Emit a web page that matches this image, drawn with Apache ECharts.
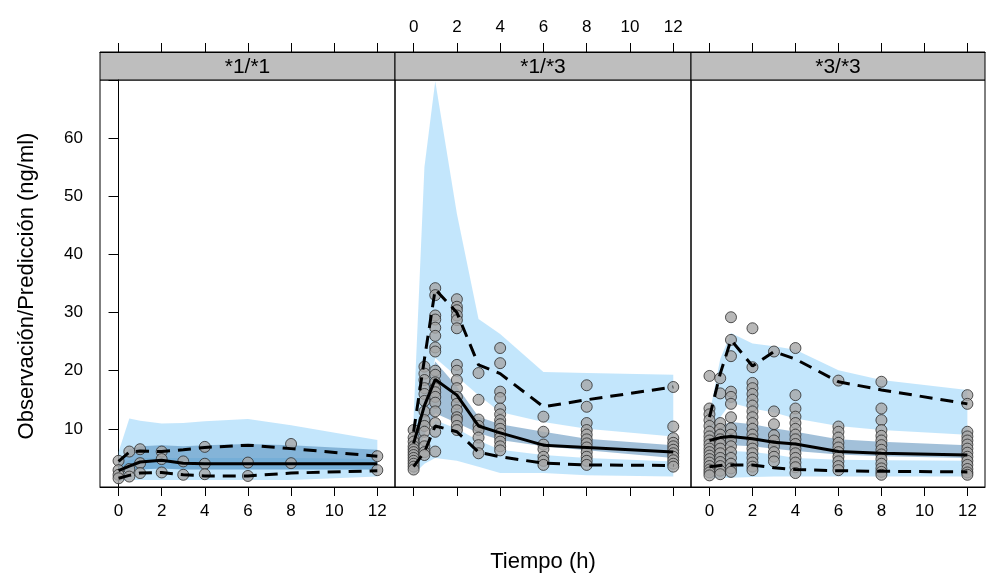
<!DOCTYPE html>
<html><head><meta charset="utf-8">
<script src="https://cdn.jsdelivr.net/npm/echarts@6/dist/echarts.min.js"></script>
<style>html,body{margin:0;padding:0;background:#fff}#c{width:986px;height:574px}</style>
</head><body><div id="c"></div>
<script>
// ---------- data ----------
const panelNames = ['*1/*1', '*1/*3', '*3/*3'];
const times = [0, 0.5, 1, 2, 3, 4, 6, 8, 12];
const xTickValues = [0, 2, 4, 6, 8, 10, 12];
const yTickValues = [10, 20, 30, 40, 50, 60];
const xTitle = 'Tiempo (h)';
const yTitle = 'Observación/Predicción (ng/ml)';

// observed concentrations per time (panel *1/*1)
const obsP1 = [
  [0, [4.5, 2.9, 2.1, 1.5]],
  [0.5, [6.1, 3.1, 1.8]],
  [1, [6.5, 4.1, 2.4]],
  [2, [6.1, 4.8, 2.5]],
  [3, [4.4, 2.1]],
  [4, [6.9, 4.0, 2.2]],
  [6, [4.2, 1.9]],
  [8, [7.4, 4.1]],
  [12, [5.3, 2.9]]
];
// panel *1/*3
const obsP2 = [
  [0, [9.8, 8.5, 7.8, 7.0, 6.5, 6.0, 5.5, 5.0, 4.5, 4.0, 3.5, 3.0]],
  [0.5, [20.7, 19.5, 18.4, 17.0, 16.0, 14.8, 13.0, 11.5, 10.5, 9.5, 8.0, 7.0, 6.0, 5.5]],
  [1, [34.2, 33.0, 29.5, 28.8, 27.4, 26.0, 24.0, 23.3, 20.0, 19.3, 18.0, 17.0, 16.3, 15.5, 14.5, 13.0, 11.0, 9.5, 6.1]],
  [2, [32.3, 31.0, 30.4, 29.5, 28.7, 27.3, 21.0, 20.0, 18.4, 17.0, 15.5, 14.3, 13.2, 12.0, 11.5, 10.5, 9.8]],
  [3, [19.6, 15.0, 11.6, 10.5, 9.8, 8.5, 7.2, 5.8]],
  [4, [23.9, 21.3, 16.4, 15.3, 13.5, 12.5, 11.5, 10.8, 10.0, 9.2, 8.5, 7.8, 7.0, 6.3]],
  [6, [12.1, 9.5, 7.3, 6.5, 5.2, 4.5, 3.8]],
  [8, [17.5, 13.8, 11.0, 9.8, 9.0, 8.2, 7.5, 6.8, 6.0, 5.2, 4.5, 3.8]],
  [12, [17.2, 10.4, 8.4, 7.6, 7.0, 6.4, 5.8, 5.2, 4.6, 4.0, 3.5]]
];
// panel *3/*3
const obsP3 = [
  [0, [19.1, 13.5, 12.5, 11.5, 10.5, 9.5, 8.7, 8.0, 7.3, 6.6, 6.0, 5.4, 4.8, 4.2, 3.6, 3.0, 2.5, 2.0]],
  [0.5, [18.7, 16.1, 11.0, 10.0, 9.0, 8.2, 7.4, 6.6, 5.8, 5.0, 4.3, 3.6, 2.8, 2.2]],
  [1, [29.2, 25.3, 22.5, 16.4, 15.5, 14.3, 12.0, 10.1, 9.0, 8.0, 7.0, 6.0, 5.0, 4.0, 3.2, 2.6]],
  [2, [27.3, 20.6, 17.9, 17.0, 16.0, 15.0, 14.0, 13.0, 12.0, 11.0, 10.0, 9.0, 8.2, 7.4, 6.6, 5.8, 5.0, 4.2, 3.5, 2.9]],
  [3, [23.3, 13.0, 10.8, 8.9, 8.0, 7.0, 6.0, 5.2, 4.4]],
  [4, [23.9, 15.8, 13.5, 12.1, 11.0, 10.0, 9.0, 8.2, 7.4, 6.6, 5.8, 5.0, 4.2, 3.4, 2.4]],
  [6, [18.3, 10.4, 9.5, 8.5, 7.6, 6.8, 6.0, 5.2, 4.4, 3.6, 2.9]],
  [8, [18.1, 13.5, 11.5, 9.8, 8.8, 8.0, 7.2, 6.4, 5.6, 4.8, 4.0, 3.2, 2.6, 2.1]],
  [12, [15.8, 14.3, 9.5, 8.7, 8.0, 7.3, 6.6, 5.9, 5.2, 4.5, 3.8, 3.1, 2.5, 2.1]]
];

// observed percentiles (5th, median, 95th) at times[]
const p1q05 = [1.5, 2.0, 2.4, 2.5, 2.1, 1.9, 1.9, 2.4, 2.8];
const p1q50 = [2.8, 3.6, 4.3, 4.6, 4.1, 4.0, 4.0, 4.0, 4.0];
const p1q95 = [4.4, 6.0, 6.2, 6.1, 6.4, 6.8, 7.2, 6.6, 5.3];
const p2q05 = [3.5, 6.0, 10.5, 9.5, 6.0, 5.2, 4.1, 3.8, 3.7];
const p2q50 = [7.5, 14.0, 18.5, 15.8, 10.5, 9.3, 7.2, 6.8, 6.0];
const p2q95 = [9.5, 22.0, 34.0, 30.0, 21.0, 19.5, 13.8, 15.0, 17.2];
const p3q05 = [3.5, 3.7, 3.8, 3.8, 3.3, 3.0, 2.8, 2.7, 2.6];
const p3q50 = [8.0, 8.5, 8.7, 8.3, 7.7, 7.4, 6.1, 5.8, 5.5];
const p3q95 = [12.0, 19.5, 25.3, 20.8, 23.3, 22.0, 18.1, 16.7, 14.3];

// simulated confidence intervals (lower / upper edges) at times[]
const p1UpLo = [2.5, 3.0, 3.0, 3.2, 3.0, 3.0, 3.0, 3.0, 3.0];
const p1UpHi = [6.0, 11.8, 11.4, 10.9, 11.0, 11.3, 11.7, 10.6, 8.1];
const p1MdLo = [2.5, 3.0, 3.0, 3.2, 3.0, 3.0, 3.0, 3.0, 3.0];
const p1MdHi = [4.5, 6.5, 7.0, 7.2, 7.0, 7.2, 7.4, 7.2, 6.4];
const p1LwLo = [1.0, 1.2, 1.2, 1.2, 1.2, 1.2, 1.2, 1.2, 1.8];
const p1LwHi = [3.8, 4.6, 5.0, 5.0, 5.0, 5.0, 5.0, 5.0, 4.8];

const p2UpLo = [6.0, 13.0, 22.2, 19.0, 15.8, 12.9, 11.2, 10.0, 8.7];
const p2UpHi = [12.0, 55.0, 69.8, 47.0, 28.9, 26.3, 19.8, 19.6, 19.3];
const p2MdLo = [4.5, 9.0, 12.7, 11.0, 9.3, 8.1, 7.0, 6.3, 5.0];
const p2MdHi = [8.5, 15.0, 21.6, 17.3, 12.1, 10.8, 9.5, 8.3, 7.2];
const p2LwLo = [2.2, 4.0, 5.0, 4.5, 3.5, 2.4, 2.4, 2.0, 1.8];
const p2LwHi = [5.0, 8.0, 11.5, 10.0, 8.0, 6.4, 5.5, 5.0, 4.4];

const p3UpLo = [8.5, 12.0, 14.5, 13.5, 12.8, 11.8, 10.5, 9.8, 9.0];
const p3UpHi = [12.5, 22.0, 26.5, 24.7, 24.2, 23.6, 20.1, 18.4, 16.7];
const p3MdLo = [6.0, 6.8, 7.2, 7.0, 6.6, 6.2, 5.6, 5.3, 5.0];
const p3MdHi = [9.0, 10.5, 11.2, 10.8, 10.1, 9.5, 8.2, 7.8, 7.2];
const p3LwLo = [1.5, 1.5, 1.6, 1.7, 1.8, 1.8, 1.8, 1.8, 1.8];
const p3LwHi = [5.5, 6.0, 6.2, 6.0, 5.6, 5.0, 4.7, 4.6, 4.5];

// ---------- build ----------
const FONT = '"Liberation Sans", Arial, sans-serif';
const panelsData = [
  {obs: obsP1, q: [p1q05, p1q50, p1q95], bands: [[p1UpLo, p1UpHi, 'up'], [p1LwLo, p1LwHi, 'lw'], [p1MdLo, p1MdHi, 'md']]},
  {obs: obsP2, q: [p2q05, p2q50, p2q95], bands: [[p2UpLo, p2UpHi, 'up'], [p2LwLo, p2LwHi, 'lw'], [p2MdLo, p2MdHi, 'md']]},
  {obs: obsP3, q: [p3q05, p3q50, p3q95], bands: [[p3UpLo, p3UpHi, 'up'], [p3LwLo, p3LwHi, 'lw'], [p3MdLo, p3MdHi, 'md']]}
];
const bandColor = {up: 'rgba(135,206,250,0.5)', lw: 'rgba(135,206,250,0.5)', md: 'rgba(70,130,180,0.5)'};

const gridPos = [{left: 100, width: 295}, {left: 395, width: 296}, {left: 691, width: 294}];
const TOP = 80, H = 407, STRIP = 28;
const XMIN = -0.86, XMAX = 12.82;

const grid = [], xAxis = [], yAxis = [], series = [], graphic = [];
gridPos.forEach((g, i) => {
  grid.push({left: g.left, top: TOP, width: g.width, height: H, show: true,
    borderColor: '#000', borderWidth: 1, backgroundColor: 'transparent', containLabel: false});
  const common = {type: 'value', gridIndex: i, min: XMIN, max: XMAX, splitLine: {show: false},
    axisLine: {show: true, lineStyle: {color: '#000', width: 1}},
    axisTick: {show: true, customValues: xTickValues, length: 9, lineStyle: {color: '#000'}}};
  xAxis.push(Object.assign({}, common, {position: 'bottom',
    axisLabel: {show: i !== 1, customValues: xTickValues, margin: 16, fontSize: 17, color: '#000', fontFamily: FONT}}));
  xAxis.push(Object.assign({}, common, {position: 'top', offset: STRIP,
    axisLabel: {show: i === 1, customValues: xTickValues, margin: 16, fontSize: 17, color: '#000', fontFamily: FONT}}));
  yAxis.push({type: 'value', gridIndex: i, min: 0, max: 70, interval: 10, position: 'left',
    splitLine: {show: false},
    axisLine: {show: i === 0, lineStyle: {color: '#000'}},
    axisTick: {show: i === 0, length: 10, lineStyle: {color: '#000'}},
    axisLabel: {show: i === 0, customValues: yTickValues, margin: 17, fontSize: 17, color: '#000', fontFamily: FONT}});

  // strip
  graphic.push({type: 'rect', z: 0, shape: {x: g.left, y: TOP - STRIP, width: g.width, height: STRIP},
    style: {fill: '#BEBEBE', stroke: '#000', lineWidth: 1}});
  graphic.push({type: 'text', z: 1, x: g.left + g.width / 2, y: TOP - STRIP / 2 + 1,
    style: {text: panelNames[i], font: '21px ' + FONT, fill: '#000', align: 'center', verticalAlign: 'middle'}});

  const pd = panelsData[i];
  // bands
  pd.bands.forEach(b => {
    const lo = b[0], hi = b[1], col = bandColor[b[2]];
    series.push({type: 'custom', xAxisIndex: 2 * i, yAxisIndex: i, silent: true, z: 1, clip: true,
      data: [[times[0], lo[0]]],
      renderItem: function (params, api) {
        const pts = [];
        for (let k = 0; k < times.length; k++) pts.push(api.coord([times[k], hi[k]]));
        for (let k = times.length - 1; k >= 0; k--) pts.push(api.coord([times[k], lo[k]]));
        return {type: 'polygon', shape: {points: pts}, style: {fill: col}};
      }});
  });
  // observations
  const pts = [];
  pd.obs.forEach(([t, vals]) => vals.forEach(v => pts.push([t, v])));
  series.push({type: 'scatter', xAxisIndex: 2 * i, yAxisIndex: i, z: 3, symbol: 'circle', symbolSize: 11,
    itemStyle: {color: '#A6A6A6', borderColor: '#2a2a2a', borderWidth: 1}, data: pts, silent: true});
  // percentile lines
  pd.q.forEach((q, k) => {
    series.push({type: 'line', xAxisIndex: 2 * i, yAxisIndex: i, z: 4, symbol: 'none', silent: true,
      lineStyle: {color: '#000', width: 3, type: k === 1 ? 'solid' : [13, 8]},
      data: times.map((t, j) => [t, q[j]])});
  });
});

graphic.push({type: 'text', x: 543, y: 562,
  style: {text: xTitle, font: '22px ' + FONT, fill: '#000', align: 'center', verticalAlign: 'middle'}});
graphic.push({type: 'text', x: 27, y: 286, rotation: Math.PI / 2,
  style: {text: yTitle, font: '22px ' + FONT, fill: '#000', align: 'center', verticalAlign: 'middle'}});

const chart = echarts.init(document.getElementById('c'), null, {renderer: 'canvas'});
chart.setOption({animation: false, backgroundColor: '#fff', grid, xAxis, yAxis, series, graphic});
</script></body></html>
